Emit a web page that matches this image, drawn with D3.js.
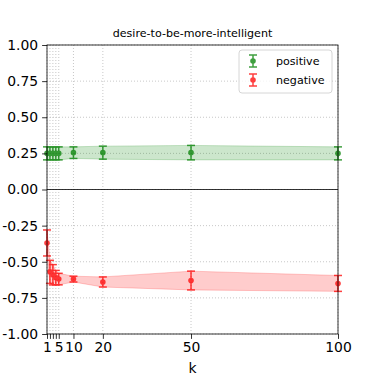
<!DOCTYPE html>
<html>
<head>
<meta charset="utf-8">
<script src="https://cdn.jsdelivr.net/npm/d3@7"></script>
<style>
  body { margin: 0; background: #fff; }
  svg { font-family: "DejaVu Sans", sans-serif; }
</style>
</head>
<body>
<svg id="chart" width="375" height="375"></svg>
<script>
// values
const kValues = [1, 2, 3, 4, 5, 10, 20, 50, 100];
const xTickLabels = [1, 5, 10, 20, 50, 100];
const yTicks = [-1, -0.75, -0.5, -0.25, 0, 0.25, 0.5, 0.75, 1];

const positiveMean = [0.25, 0.25, 0.25, 0.25, 0.25, 0.255, 0.255, 0.255, 0.25];
const positiveErr  = [0.045, 0.045, 0.045, 0.045, 0.045, 0.04, 0.045, 0.05, 0.045];
const negativeMean = [-0.37, -0.57, -0.59, -0.61, -0.62, -0.62, -0.64, -0.63, -0.65];
const negativeErr  = [0.09, 0.08, 0.07, 0.05, 0.04, 0.02, 0.035, 0.065, 0.055];

const title = "desire-to-be-more-intelligent";

const svg = d3.select("#chart");
const margin = {top: 45, right: 37, bottom: 41, left: 47};
const width = 375 - margin.left - margin.right;
const height = 375 - margin.top - margin.bottom;

const g = svg.append("g").attr("transform", `translate(${margin.left},${margin.top})`);

const x = d3.scaleLinear().domain([1, 100]).range([0, width]);
const y = d3.scaleLinear().domain([-1, 1]).range([height, 0]);

// grid
g.append("g").selectAll("line")
  .data(kValues).enter().append("line")
  .attr("x1", d => x(d)).attr("x2", d => x(d))
  .attr("y1", 0).attr("y2", height)
  .attr("stroke", "#b0b0b0").attr("stroke-width", 0.7)
  .attr("stroke-dasharray", "1,2");
g.append("g").selectAll("line")
  .data(yTicks).enter().append("line")
  .attr("x1", 0).attr("x2", width)
  .attr("y1", d => y(d)).attr("y2", d => y(d))
  .attr("stroke", "#b0b0b0").attr("stroke-width", 0.7)
  .attr("stroke-dasharray", "1,2");

// zero line
g.append("line")
  .attr("x1", 0).attr("x2", width)
  .attr("y1", y(0)).attr("y2", y(0))
  .attr("stroke", "#000").attr("stroke-width", 0.8);

const series = [
  {name: "positive", color: "green", mean: positiveMean, err: positiveErr},
  {name: "negative", color: "red", mean: negativeMean, err: negativeErr}
];

series.forEach(s => {
  const pts = kValues.map((k, i) => ({k, m: s.mean[i], e: s.err[i]}));
  const area = d3.area()
    .x(d => x(d.k))
    .y0(d => y(d.m - d.e))
    .y1(d => y(d.m + d.e));
  g.append("path")
    .datum(pts)
    .attr("d", area)
    .attr("fill", s.color).attr("fill-opacity", 0.2)
    .attr("stroke", s.color).attr("stroke-opacity", 0.2).attr("stroke-width", 1);

  const eb = g.append("g").attr("opacity", 0.75);
  eb.selectAll("line.v").data(pts).enter().append("line")
    .attr("x1", d => x(d.k)).attr("x2", d => x(d.k))
    .attr("y1", d => y(d.m - d.e)).attr("y2", d => y(d.m + d.e))
    .attr("stroke", s.color).attr("stroke-width", 1.5);
  [-1, 1].forEach(sign => {
    eb.selectAll(null).data(pts).enter().append("line")
      .attr("x1", d => x(d.k) - 4).attr("x2", d => x(d.k) + 4)
      .attr("y1", d => y(d.m + sign * d.e)).attr("y2", d => y(d.m + sign * d.e))
      .attr("stroke", s.color).attr("stroke-width", 1.5);
  });
  eb.selectAll("circle").data(pts).enter().append("circle")
    .attr("cx", d => x(d.k)).attr("cy", d => y(d.m))
    .attr("r", 2.8).attr("fill", s.color);
});

// spines
g.append("rect").attr("width", width).attr("height", height)
  .attr("fill", "none").attr("stroke", "#000").attr("stroke-width", 0.8);

// axes
const fmt = d3.format(".2f");
const xAxis = g.append("g").attr("transform", `translate(0,${height})`)
  .call(d3.axisBottom(x).tickValues(kValues).tickSizeOuter(0).tickSize(4.9).tickPadding(3.5)
    .tickFormat(d => xTickLabels.includes(d) ? d : ""));
const yAxis = g.append("g")
  .call(d3.axisLeft(y).tickValues(yTicks).tickSizeOuter(0).tickSize(4.9).tickPadding(4)
    .tickFormat(d => fmt(d).replace("\u2212", "-")));
[xAxis, yAxis].forEach(a => {
  a.select(".domain").remove();
  a.selectAll("text").attr("font-size", 13.9).attr("fill", "#000")
    .attr("font-family", "DejaVu Sans");
  a.selectAll("line").attr("stroke", "#000").attr("stroke-width", 0.8);
});

// labels
svg.append("text").attr("x", margin.left + width / 2).attr("y", 373)
  .attr("text-anchor", "middle").attr("font-size", 13.9).text("k");
svg.append("text").attr("x", margin.left + width / 2).attr("y", 37)
  .attr("text-anchor", "middle").attr("font-size", 11.1).text(title);

// legend
const lg = svg.append("g").attr("transform", "translate(239,50)");
lg.append("rect").attr("width", 93).attr("height", 43).attr("rx", 3)
  .attr("fill", "#fff").attr("fill-opacity", 0.8)
  .attr("stroke", "#ccc").attr("stroke-width", 0.8);
series.forEach((s, i) => {
  const cy = 11 + i * 19;
  const e = lg.append("g").attr("opacity", 0.75);
  e.append("line").attr("x1", 14).attr("x2", 14).attr("y1", cy - 6).attr("y2", cy + 6)
    .attr("stroke", s.color).attr("stroke-width", 1.5);
  [-6, 6].forEach(o => e.append("line").attr("x1", 10).attr("x2", 18)
    .attr("y1", cy + o).attr("y2", cy + o).attr("stroke", s.color).attr("stroke-width", 1.5));
  e.append("circle").attr("cx", 14).attr("cy", cy).attr("r", 2.8).attr("fill", s.color);
  lg.append("text").attr("x", 37).attr("y", cy + 4).attr("font-size", 11.1).text(s.name);
});
</script>
</body>
</html>
